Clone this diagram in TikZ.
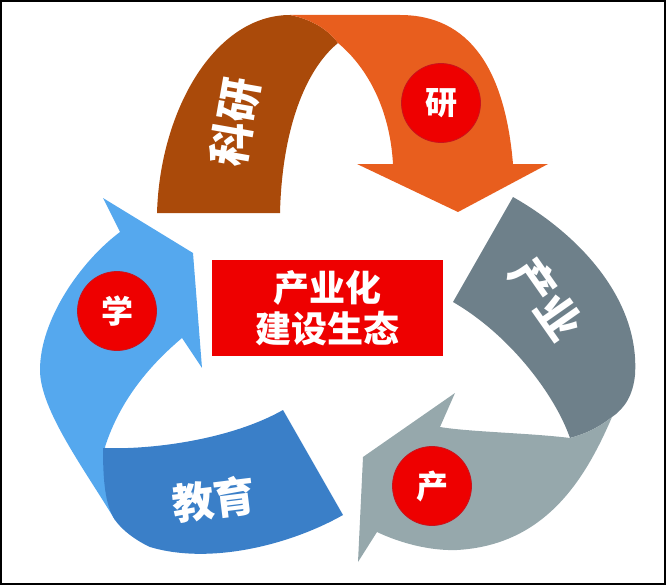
\documentclass[tikz,border=0pt]{standalone}
\usepackage{fontspec}
\newfontfamily\cjk{Noto Sans CJK SC}
\definecolor{keyanbrown}{RGB}{170,74,10}
\definecolor{keyanorange}{RGB}{232,94,30}
\definecolor{chanyedark}{RGB}{110,128,138}
\definecolor{chanyelight}{RGB}{150,168,172}
\definecolor{xuelight}{RGB}{85,168,238}
\definecolor{xuedark}{RGB}{58,127,200}
\definecolor{dotred}{RGB}{238,0,0}
\definecolor{dotrim}{RGB}{200,20,30}
\tikzset{
ribbon text/.style={ % White characters written on the bands
text=white,
font=\cjk\bfseries\fontsize{44}{48}\selectfont},
red dot/.style={ % Red discs carrying one character
circle,
fill=dotred,
draw=dotrim,
line width=0.8pt,
minimum size=79pt,
inner sep=0pt,
text=white,
font=\cjk\bfseries\fontsize{32}{36}\selectfont},
center box/.style={ % Red box in the middle
rectangle,
fill=dotred,
minimum width=231pt,
minimum height=96pt,
inner sep=0pt,
align=center,
text=white,
font=\cjk\bfseries\fontsize{36}{41}\selectfont}}

\begin{document}
\begin{tikzpicture}[x=1pt,y=-1pt]
                \useasboundingbox (0,0) rectangle (667,586);
                % top band: brown back, orange front with the head
                \fill[keyanbrown] (157,213) .. controls (160,110) and (215,15) .. (290,15)
                    .. controls (315,20) and (330,32) .. (338,43)
                    .. controls (305,70) and (282,130) .. (280,213) -- cycle;
                \fill[keyanorange] (290,15) -- (400,15) .. controls (470,15) and (505,70) .. (513,164)
                    -- (548,164) -- (458,212) -- (357,164) -- (393,164)
                    .. controls (390,110) and (368,68) .. (338,43)
                    .. controls (330,32) and (315,20) .. (290,15) -- cycle;
                % right band
                \fill[chanyedark] (453,302) -- (513,197) .. controls (580,235) and (640,300) .. (635,375)
                    .. controls (633,395) and (625,408) .. (612,417)
                    .. controls (598,428) and (585,434) .. (570,438)
                    .. controls (555,395) and (510,335) .. (453,302) -- cycle;
                \fill[chanyelight] (570,438) .. controls (585,434) and (598,428) .. (612,417)
                    .. controls (585,480) and (545,545) .. (457,550)
                    .. controls (430,551) and (400,543) .. (377,532)
                    -- (358,562) -- (363,457) -- (455,393) -- (440,427)
                    .. controls (470,432) and (530,433) .. (570,438) -- cycle;
                % left band
                \fill[xuelight] (105,447) .. controls (120,400) and (150,365) .. (182,338)
                    -- (202,368) -- (193,253) -- (103,198) -- (120,232)
                    .. controls (80,262) and (40,320) .. (40,370)
                    .. controls (40,410) and (85,470) .. (115,520) -- cycle;
                \fill[xuedark] (103,448) .. controls (150,450) and (230,440) .. (283,410)
                    -- (343,515) .. controls (290,545) and (210,565) .. (150,547)
                    .. controls (135,540) and (122,530) .. (115,520)
                    .. controls (105,505) and (103,480) .. (103,448) -- cycle;

                \node[ribbon text, rotate=80] (keyan) at (235,122) {科研};
                \node[ribbon text, rotate=-55] (chanye) at (546,299) {产业};
                \node[ribbon text, rotate=7, font=\cjk\bfseries\fontsize{42}{46}\selectfont] (jiaoyu) at (214,499) {教育};

                \node[red dot] (yan) at (441,103) {研};
                \node[red dot] (chan) at (432,486) {产};
                \node[red dot] (xue) at (117,311) {学};

                \node[center box] (shengtai) at (327.5,308) {产业化\\建设生态};

                \draw[line width=1.3pt] (1,1) rectangle (665,584);
            \end{tikzpicture}
\end{document}
